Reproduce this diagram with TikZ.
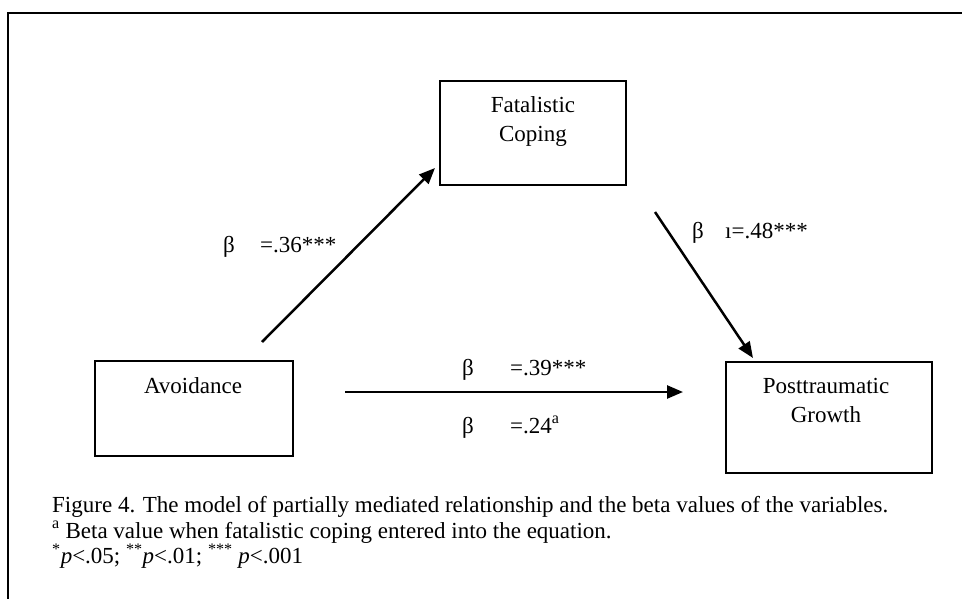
\documentclass[tikz,border=0pt]{standalone}
\usepackage{fontspec}
\setmainfont{Liberation Serif}
\usetikzlibrary{arrows.meta}
\begin{document}
\begin{tikzpicture}[x=1pt,y=-1pt,
  varbox/.style={draw,line width=2pt,inner sep=0pt},
  vartext/.style={inner sep=0pt,anchor=base,font=\fontsize{23}{29}\selectfont},
  arrowline/.style={line width=2.5pt,-{Triangle[length=16pt,width=13pt]}},
  lbl/.style={inner sep=0pt,anchor=base west,font=\fontsize{23}{29}\selectfont},
  captext/.style={inner sep=0pt,anchor=base west,font=\fontsize{23}{25}\selectfont}]
\useasboundingbox (0,0) rectangle (962,599);
% outer frame, continuing past the page edge
\draw[line width=2.5pt] (8,700) -- (8,13) -- (1000,13);
% variables
\node[varbox,minimum width=186pt,minimum height=104pt] (fat) at (533,133) {};
\node[vartext] (fat1) at (533,113) {Fatalistic};
\node[vartext] (fat2) at (533,142) {Coping};
\node[varbox,minimum width=198pt,minimum height=95pt] (avo) at (194,408.5) {};
\node[vartext] (avot) at (193,393) {Avoidance};
\node[varbox,minimum width=206pt,minimum height=111pt] (ptg) at (829,417.5) {};
\node[vartext] (ptg1) at (826,393) {Posttraumatic};
\node[vartext] (ptg2) at (826,422) {Growth};
% paths
\coordinate (a1) at (262,342);
\coordinate (a2) at (435,168);
\coordinate (b1) at (655,212);
\coordinate (b2) at (753,358);
\coordinate (c1) at (345,392);
\coordinate (c2) at (683,392);
\draw[arrowline] (a1) -- (a2);
\draw[arrowline] (b1) -- (b2);
\draw[arrowline] (c1) -- (c2);
% coefficients
\node[lbl] (ba) at (223,252) {β};
\node[lbl] (va) at (260,252) {=.36***};
\node[lbl] (bb) at (692,238) {β};
\node[lbl] (vb) at (725,238) {ı=.48***};
\node[lbl] (bc) at (462,375) {β};
\node[lbl] (vc) at (510,375) {=.39***};
\node[lbl] (bd) at (462,433) {β};
\node[lbl] (vd) at (510,433) {=.24\textsuperscript{a}};
% caption
\node[captext] (c1t) at (52,512.5) {Figure 4. The model of partially mediated relationship and the beta values of the variables.};
\node[captext] (c2t) at (52,538) {\textsuperscript{a} Beta value when fatalistic coping entered into the equation.};
\node[captext] (c3t) at (52,563.5) {\textsuperscript{*}\textit{p}<.05; \textsuperscript{**}\textit{p}<.01; \textsuperscript{***} \textit{p}<.001};
\end{tikzpicture}
\end{document}
